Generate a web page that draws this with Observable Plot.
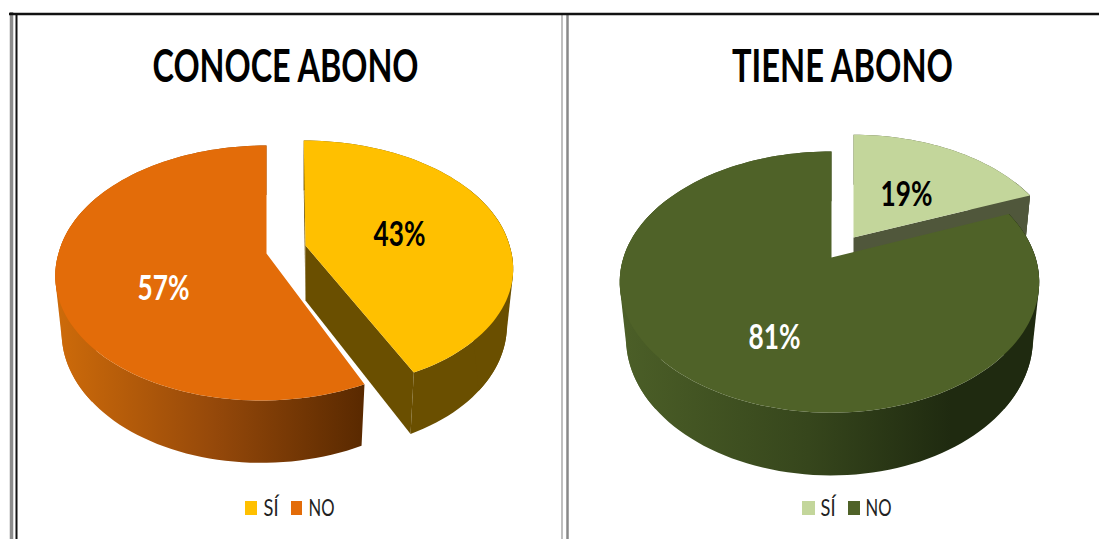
<!DOCTYPE html>
<html><head><meta charset="utf-8">
<style>html,body{margin:0;padding:0;background:#fff}svg{display:block}</style>
<script src="https://cdn.jsdelivr.net/npm/d3@7"></script>
<script src="https://cdn.jsdelivr.net/npm/@observablehq/plot@0.6"></script>
</head><body><div id="chart"></div>
<script>
const categories = ["SÍ", "NO"];
const conoceAbono = [43, 57];
const tieneAbono = [19, 81];
const titles = ["CONOCE ABONO", "TIENE ABONO"];

const W = 1099, H = 539, FONT = 'Lato,"Liberation Sans",sans-serif';
const DEG = Math.PI / 180;

function proj(g, deg, bottom) {
  const u = Math.sin(deg * DEG), v = Math.cos(deg * DEG), w = 1 + g.p * v;
  const sx = bottom ? 0.97 : 1, sy = bottom ? 1.05 : 1;
  const rx = u > 0 && g.rxR ? g.rxR : g.rx;
  return {
    x: g.x0 + rx * sx * (u + (g.nearShear || 0) * Math.max(0, -v) - (g.farShear || 0) * Math.max(0, v)) / w,
    y: g.y0 + (bottom ? g.depth : 0) - g.ry * sy * v / w
  };
}
function steps(a, b) {
  const n = Math.max(2, Math.ceil(Math.abs(b - a) / 2));
  return d3.range(n + 1).map(i => a + (b - a) * i / n);
}
const apex = (g, bottom) => ({x: g.x0, y: g.y0 + (bottom ? g.depth : 0)});
const poly = (pts, fill) => Plot.line(pts, {x: "x", y: "y", fill, stroke: "none"});
const topFace = (g, a, b, fill) => poly([apex(g), ...steps(a, b).map(t => proj(g, t)), apex(g)], fill);
// Side wall: the band between the rims, plus convex patches where the cylinder's
// silhouette runs straight from the top rim's extreme to the bottom rim.
function silhouette(g, a, b, fill) {
  const [lo, hi] = [Math.max(a, b === 0 ? a : Math.min(a, b)), b];
  if (hi - lo < 1) return null;
  const pts = steps(lo, hi).flatMap(t => [proj(g, t), proj(g, t, true)]);
  const hull = d3.polygonHull(pts.map(p => [p.x, p.y]));
  return poly(hull.map(([x, y]) => ({x, y})), fill);
}
function outerWall(g, a, b, fill) {
  const band = poly([...steps(a, b).map(t => proj(g, t)), ...steps(b, a).map(t => proj(g, t, true))], fill);
  const right = silhouette(g, Math.max(a, 60), Math.min(b, 130), fill);
  const left = silhouette(g, Math.max(a, 230), Math.min(b, 300), fill);
  return [band, right, left].filter(Boolean);
}
const cutWall = (g, a, fill) => poly([apex(g), proj(g, a), proj(g, a, true), apex(g, true)], fill);

const leftBig = {x0: 266, y0: 253, rx: 208, ry: 124.5, p: 0.153, depth: 55, nearShear: -0.022};
const leftOut = {x0: 305, y0: 245, rx: 204, ry: 121, p: 0.153, depth: 55, nearShear: 0.035, farShear: 0.01};
const rightBig = {x0: 831, y0: 257, rx: 208, rxR: 204, ry: 126, p: 0.188, depth: 55};
const rightOut = {x0: 853, y0: 237, rx: 203, ry: 122, p: 0.188, depth: 55};

const sweep = series => series[0] / d3.sum(series) * 360;
const siL = sweep(conoceAbono), siR = sweep(tieneAbono);

function gradient(id, x1, x2, stops) {
  return () => {
    const defs = d3.create("svg:defs");
    const g = defs.append("linearGradient").attr("id", id)
      .attr("gradientUnits", "userSpaceOnUse")
      .attr("x1", x1).attr("x2", x2).attr("y1", 0).attr("y2", 0);
    stops.forEach(([o, c]) => g.append("stop").attr("offset", o).attr("stop-color", c));
    return defs.node();
  };
}
const label = (text, x, y, fontSize, fill, fontWeight = "bold", textAnchor = "middle") =>
  Plot.text([text], {x: () => x, y: () => y, text: d => d, fontSize, fill, fontWeight, textAnchor,
    fontFamily: FONT, lineAnchor: "middle"});
const swatch = (x1, x2, fill) => Plot.rect([0], {x1: () => x1, x2: () => x2, y1: () => 501, y2: () => 515, fill});

const plot = Plot.plot({
  width: W, height: H, margin: 0,
  x: {axis: null, domain: [0, W], range: [0, W]},
  y: {axis: null, domain: [0, H], range: [0, H]},
  marks: [
    gradient("wallOrange", 60, 364, [[0, "#cc6a0a"], [0.5, "#96490a"], [1, "#592900"]]),
    gradient("wallGreen", 625, 1032, [[0, "#4b5e27"], [0.45, "#36461c"], [0.8, "#1f2a10"], [1, "#1f2a10"]]),

    // frame
    Plot.ruleX([11], {y1: 12, y2: H, stroke: "#8c8c8c", strokeWidth: 3.5}),
    Plot.ruleX([16], {y1: 13, y2: H, stroke: "#111", strokeWidth: 2}),
    Plot.ruleX([561.5], {y1: 13, y2: H, stroke: "#aaa", strokeWidth: 1.5}),
    Plot.ruleX([567], {y1: 13, y2: H, stroke: "#888", strokeWidth: 2.5}),
    Plot.ruleY([13.5], {x1: 9, x2: W, stroke: "#111", strokeWidth: 2.5}),

    // left pie
    outerWall(leftOut, 0, siL, "#6a4f00"),
    cutWall(leftOut, 0, "#6a4f00"),
    cutWall(leftOut, siL, "#6a4f00"),
    topFace(leftOut, 0, siL, "#FFC000"),
    outerWall(leftBig, siL, 360, "url(#wallOrange)"),
    topFace(leftBig, siL, 360, "#E36C09"),

    // right pie
    outerWall(rightOut, 0, siR, "#50573b"),
    cutWall(rightOut, siR, "#50573b"),
    topFace(rightOut, 0, siR, "#C3D69B"),
    outerWall(rightBig, siR, 360, "url(#wallGreen)"),
    topFace(rightBig, siR, 360, "#4F6228"),

    // titles
    label(titles[0], 285, 67, 46, "#000"),
    label(titles[1], 842, 67, 46, "#000"),

    // value labels
    label(conoceAbono[0] + "%", 399, 234, 35, "#000"),
    label(conoceAbono[1] + "%", 163, 288, 35, "#fff"),
    label(tieneAbono[0] + "%", 906, 194, 35, "#000"),
    label(tieneAbono[1] + "%", 774, 337, 35, "#fff"),

    // legends
    swatch(245, 257, "#FFC000"),
    label(categories[0], 263, 508, 24, "#222", "normal", "start"),
    swatch(291, 302, "#E36C09"),
    label(categories[1], 308, 508, 24, "#222", "normal", "start"),
    swatch(802, 815, "#C3D69B"),
    label(categories[0], 820, 508, 24, "#222", "normal", "start"),
    swatch(848, 860, "#4F6228"),
    label(categories[1], 865, 508, 24, "#222", "normal", "start")
  ]
});
// Condense the text to the widths of the narrow face used in the reference.
const textWidths = new Map([[titles[0], 266], [titles[1], 221], [categories[0], 15], [categories[1], 26]]);
d3.select(plot).selectAll("text").each(function () {
  const t = this.textContent;
  this.setAttribute("textLength", textWidths.get(t) ?? 52);
  this.setAttribute("lengthAdjust", "spacingAndGlyphs");
});
document.getElementById("chart").append(plot);
</script></body></html>
